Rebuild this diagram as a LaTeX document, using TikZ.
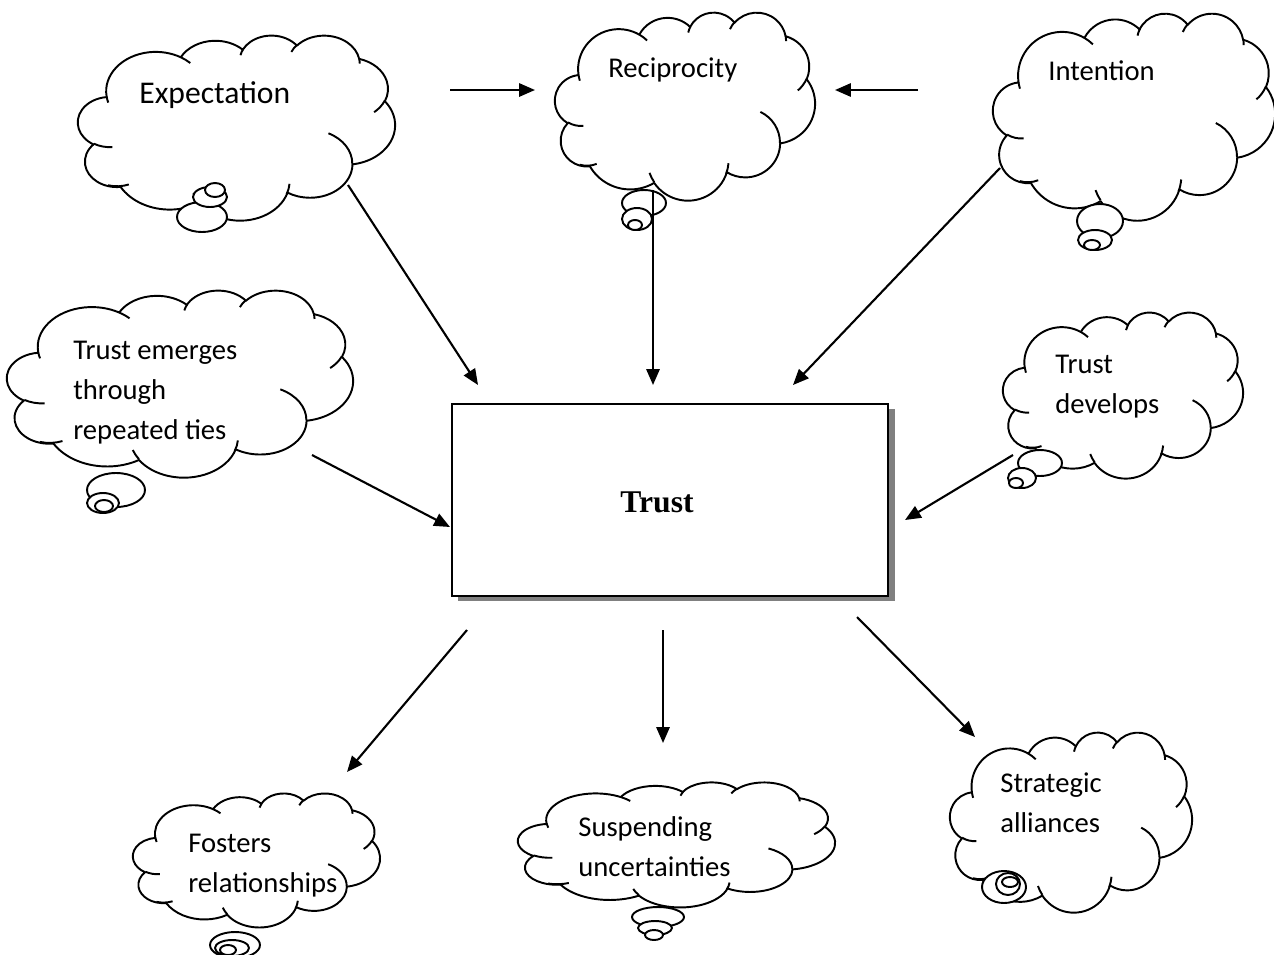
\documentclass[tikz,border=0pt]{standalone}
\usepackage{fontspec}
\setmainfont{Carlito}
\newfontfamily\tnr{Liberation Serif}
\usetikzlibrary{arrows.meta}
\tikzset{
  dmarc/.style n args={4}{insert path={arc[x radius=#1, y radius=#2,
     start angle={atan2((#1)*sin(#3),(#2)*cos(#3))},
     delta angle={Mod(atan2((#1)*sin((#3)+(#4)),(#2)*cos((#3)+(#4)))-atan2((#1)*sin(#3),(#2)*cos(#3)),360)}]}},
  cloudline/.style={line width=1.1pt, line join=round, black},
  arr/.style={line width=1.2pt, -{Triangle[length=9pt,width=7.5pt]}},
  ctext/.style={anchor=base west, align=left, inner sep=0pt, font=\fontsize{16.3}{22.7}\selectfont},
}
\newcommand\wordcloud[4]{%
\begin{scope}[shift={(#1,#2)}, xscale=#3/432, yscale=#4/432]
 \draw[cloudline, fill=white] (39.00,143.70)
   [dmarc={67.53}{91.90}{-190.4875}{123.7805}]
   [dmarc={53.33}{72.67}{-144.1024}{89.9452}]
   [dmarc={43.65}{59.45}{-145.8079}{99.7230}]
   [dmarc={48.57}{65.95}{-130.9861}{117.2417}]
   [dmarc={53.33}{72.73}{-78.7089}{109.0269}]
   [dmarc={67.75}{92.20}{-46.2673}{130.2690}]
   [dmarc={57.85}{78.67}{0.6250}{114.0333}]
   [dmarc={67.52}{92.15}{22.4516}{115.1726}]
   [dmarc={77.20}{105.43}{66.2426}{75.7110}]
   [dmarc={43.60}{59.18}{-274.9421}{146.7356}]
   [dmarc={43.45}{59.45}{-246.8285}{152.5189}] -- cycle;
 \draw[cloudline]
   (46.93,261.77) [dmarc={43.45}{59.45}{86.7420}{26.4295}]
   (69.28,348.99) [dmarc={43.60}{59.18}{73.6036}{28.5040}]
   (164.78,390.90) [dmarc={67.52}{92.15}{137.6242}{17.2391}]
   (288.27,347.51) [dmarc={67.52}{92.15}{6.4533}{20.2532}]
   (341.29,229.54) [dmarc={57.85}{78.67}{-70.2924}{70.9174}]
   (417.98,153.54) [dmarc={53.33}{72.73}{30.3180}{27.7515}]
   (383.24,54.26) [dmarc={48.57}{65.95}{-13.7443}{14.8589}]
   (290.78,39.52) [dmarc={48.57}{65.95}{-149.1815}{18.1954}]
   (221.41,47.20) [dmarc={43.65}{59.45}{-163.4943}{17.6864}]
   (140.00,51.92) [dmarc={67.53}{91.90}{-66.7070}{12.3194}]
   (41.27,157.89) [dmarc={67.53}{91.90}{157.6544}{11.8582}];
\end{scope}}
\newcommand\bubbles[9]{%
 \draw[cloudline, fill=white] (#1) ellipse [x radius=#2, y radius=#3];
 \draw[cloudline, fill=white] (#4) ellipse [x radius=#5, y radius=#6];
 \draw[cloudline, fill=white] (#7) ellipse [x radius=#8, y radius=#9];}
\begin{document}
\begin{tikzpicture}[x=0.02cm,y=-0.02cm]
\useasboundingbox (0,0) rectangle (1274,954);
% clouds
\wordcloud{78}{35}{317}{185}
\bubbles{202,217}{25}{15}{210,197}{17}{10}{215,190}{10}{7}
\wordcloud{555}{12}{260}{188}
\bubbles{644,203}{22}{13}{637,219}{15}{11}{635,225}{7}{5}
\wordcloud{993}{13}{282}{207}
\bubbles{1100,221}{23}{17}{1095,240}{17}{10}{1092,245}{8}{5}
\wordcloud{7}{290}{346}{187}
\bubbles{116,490}{29}{17}{103,503}{16}{10}{104,506}{9}{6}
\wordcloud{1003}{312}{240}{166}
\bubbles{1040,463}{22}{13}{1022,478}{14}{10}{1016,483}{7}{5}
\wordcloud{133}{793}{247}{134}
\bubbles{235,945}{25}{13}{232,948}{17}{8}{228,950}{8}{5}
\wordcloud{518}{782}{317}{125}
\bubbles{658,917}{26}{10}{655,928}{17}{7}{654,935}{9}{5}
\wordcloud{950}{732}{242}{180}
\bubbles{1004,887}{22}{16}{1008,884}{12}{11}{1010,882}{8}{5}
% texts (anchor base = baseline of the last line)
\node[ctext, font=\fontsize{18}{22}\selectfont] (exp) at (139,103) {Expectation};
\node[ctext] (rec) at (608,77) {Reciprocity};
\node[ctext] (int) at (1048,80) {Intention};
\node[ctext] (tem) at (73,439) {Trust emerges\\through\\repeated ties};
\node[ctext] (tdv) at (1055,413) {Trust\\develops};
\node[ctext] (fos) at (188,892) {Fosters\\relationships};
\node[ctext] (sus) at (578,876) {Suspending\\uncertainties};
\node[ctext] (str) at (1000,832) {Strategic\\alliances};
% trust box
\fill[black!50] (458,409) rectangle (895,601);
\node[draw, fill=white, line width=0.9pt, anchor=north west, inner sep=0pt,
      minimum width=8.72cm, minimum height=3.84cm] (trust) at (451,403) {};
\node[anchor=base, inner sep=0pt, font=\tnr\bfseries\fontsize{18}{21}\selectfont] (trustlbl) at (657,512) {Trust};
% connector end points
\coordinate (h1s) at (450,90);  \coordinate (h1e) at (535,90);
\coordinate (h2s) at (918,90);  \coordinate (h2e) at (835,90);
\coordinate (e1s) at (348,185); \coordinate (e1e) at (478,385);
\coordinate (r1s) at (653,190); \coordinate (r1e) at (653,385);
\coordinate (i1s) at (1000,168);\coordinate (i1e) at (793,385);
\coordinate (t1s) at (312,455); \coordinate (t1e) at (450,527);
\coordinate (d1s) at (1013,455);\coordinate (d1e) at (905,520);
\coordinate (o1s) at (467,630); \coordinate (o1e) at (347,772);
\coordinate (o2s) at (663,630); \coordinate (o2e) at (663,743);
\coordinate (o3s) at (857,617); \coordinate (o3e) at (975,737);
\draw[arr] (h1s) -- (h1e);
\draw[arr] (h2s) -- (h2e);
\draw[arr] (e1s) -- (e1e);
\draw[arr] (r1s) -- (r1e);
\draw[arr] (i1s) -- (i1e);
\draw[arr] (t1s) -- (t1e);
\draw[arr] (d1s) -- (d1e);
\draw[arr] (o1s) -- (o1e);
\draw[arr] (o2s) -- (o2e);
\draw[arr] (o3s) -- (o3e);
\end{tikzpicture}
\end{document}
